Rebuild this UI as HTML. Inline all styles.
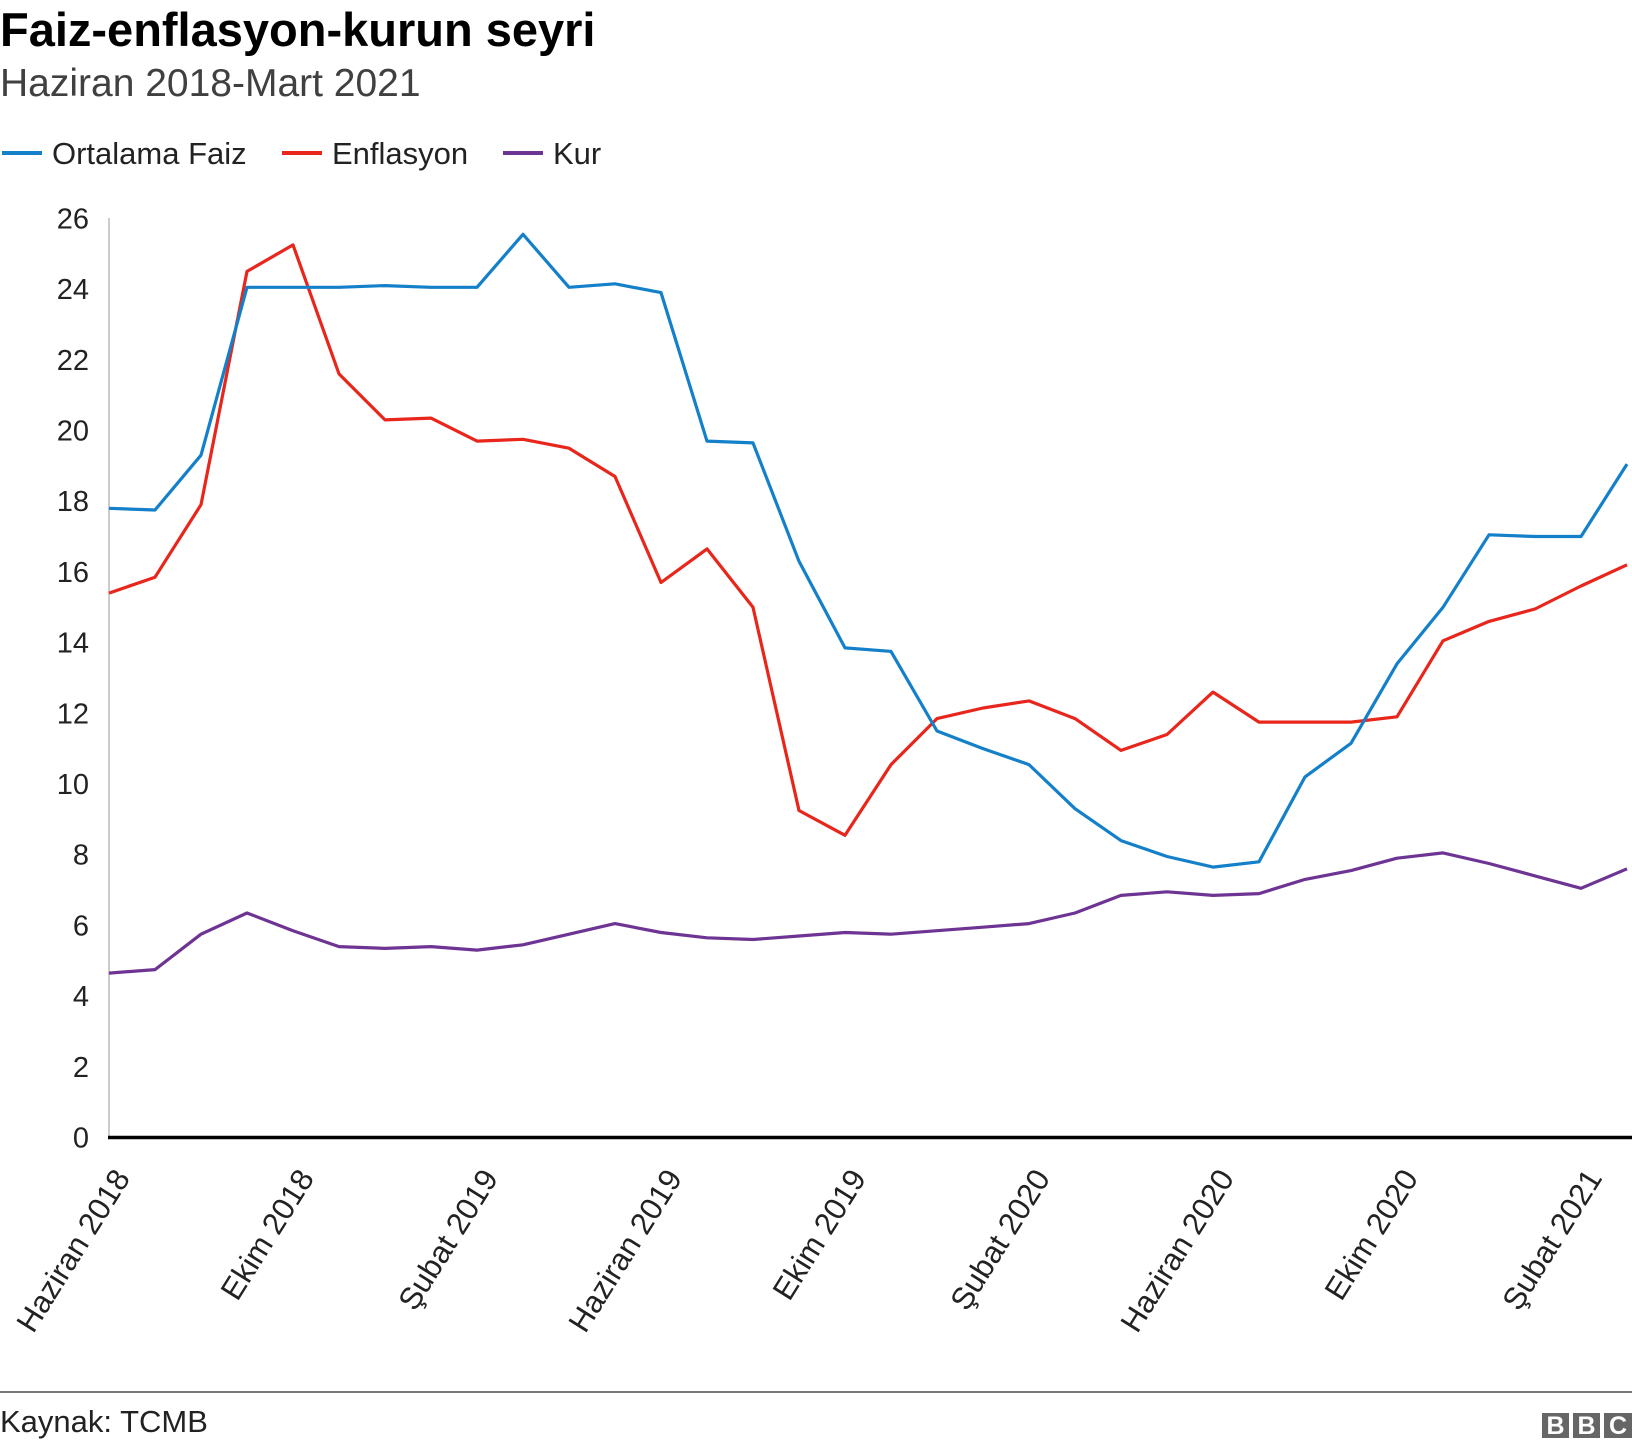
<!DOCTYPE html>
<html><head><meta charset="utf-8"><style>body{margin:0;background:#fff}svg{display:block}</style></head><body>
<svg width="1632" height="1448" xmlns="http://www.w3.org/2000/svg" font-family="Liberation Sans, Arial, sans-serif">
<text x="0" y="46" font-size="47" font-weight="bold" fill="#000">Faiz-enflasyon-kurun seyri</text>
<text x="0" y="96" font-size="39" fill="#404040">Haziran 2018-Mart 2021</text>
<g font-size="31" fill="#222">
<line x1="2" y1="153" x2="42" y2="153" stroke="#1380c9" stroke-width="4"/><text x="52" y="164">Ortalama Faiz</text>
<line x1="282" y1="153" x2="322" y2="153" stroke="#e8261c" stroke-width="4"/><text x="332" y="164">Enflasyon</text>
<line x1="503" y1="153" x2="543" y2="153" stroke="#6e3494" stroke-width="4"/><text x="553" y="164">Kur</text>
</g>
<line x1="109" y1="218" x2="109" y2="1137" stroke="#ccc" stroke-width="2"/>
<g id="yt" font-size="29" fill="#222" text-anchor="end"></g>
<g id="xt" font-size="31" fill="#222" text-anchor="end"></g>
<g id="series" fill="none" stroke-width="3.2" stroke-linejoin="round"></g>
<line x1="108" y1="1137.5" x2="1632" y2="1137.5" stroke="#000" stroke-width="3.5"/>
<line x1="0" y1="1392" x2="1632" y2="1392" stroke="#777" stroke-width="2"/>
<text x="0" y="1432" font-size="31" fill="#222">Kaynak: TCMB</text>
<g font-size="25" font-weight="bold" fill="#fff" text-anchor="middle">
<rect x="1542" y="1413" width="27" height="25" fill="#666"/><text x="1555.5" y="1434">B</text>
<rect x="1573" y="1413" width="27" height="25" fill="#666"/><text x="1586.5" y="1434">B</text>
<rect x="1604" y="1413" width="28" height="25" fill="#666"/><text x="1618" y="1434">C</text>
</g>
<script>
var ns="http://www.w3.org/2000/svg";
function Y(v){return 1137.5-v*35.35;}
function X(i){return 109+i*46.0;}
var yt=document.getElementById("yt");
for(var v=0;v<=26;v+=2){var t=document.createElementNS(ns,"text");t.setAttribute("x",89);t.setAttribute("y",Y(v)+10);t.textContent=v;yt.appendChild(t);}
var labs=["Haziran 2018","Ekim 2018","Şubat 2019","Haziran 2019","Ekim 2019","Şubat 2020","Haziran 2020","Ekim 2020","Şubat 2021"];
var xt=document.getElementById("xt");
labs.forEach(function(l,k){var x=X(k*4)+22,y=1178;var t=document.createElementNS(ns,"text");t.setAttribute("x",x);t.setAttribute("y",y);t.setAttribute("transform","rotate(-58 "+x+" "+y+")");t.textContent=l;xt.appendChild(t);});
var faiz=[17.8,17.75,19.3,24.05,24.05,24.05,24.1,24.05,24.05,25.55,24.05,24.15,23.9,19.7,19.65,16.3,13.85,13.75,11.5,11.0,10.55,9.3,8.4,7.95,7.65,7.8,10.2,11.15,13.4,15.0,17.05,17.0,17.0,19.05];
var enf=[15.4,15.85,17.9,24.5,25.25,21.6,20.3,20.35,19.7,19.75,19.5,18.7,15.7,16.65,15.0,9.25,8.55,10.55,11.85,12.15,12.35,11.85,10.95,11.4,12.6,11.75,11.75,11.75,11.9,14.05,14.6,14.95,15.6,16.2];
var kur=[4.65,4.75,5.75,6.35,5.85,5.4,5.35,5.4,5.3,5.45,5.75,6.05,5.8,5.65,5.6,5.7,5.8,5.75,5.85,5.95,6.05,6.35,6.85,6.95,6.85,6.9,7.3,7.55,7.9,8.05,7.75,7.4,7.05,7.6];
var g=document.getElementById("series");
[[kur,"#6e3494"],[enf,"#e8261c"],[faiz,"#1380c9"]].forEach(function(s){var p=document.createElementNS(ns,"polyline");p.setAttribute("points",s[0].map(function(v,i){return X(i).toFixed(1)+","+Y(v).toFixed(1);}).join(" "));p.setAttribute("stroke",s[1]);g.appendChild(p);});
</script>
</svg>
</body></html>
